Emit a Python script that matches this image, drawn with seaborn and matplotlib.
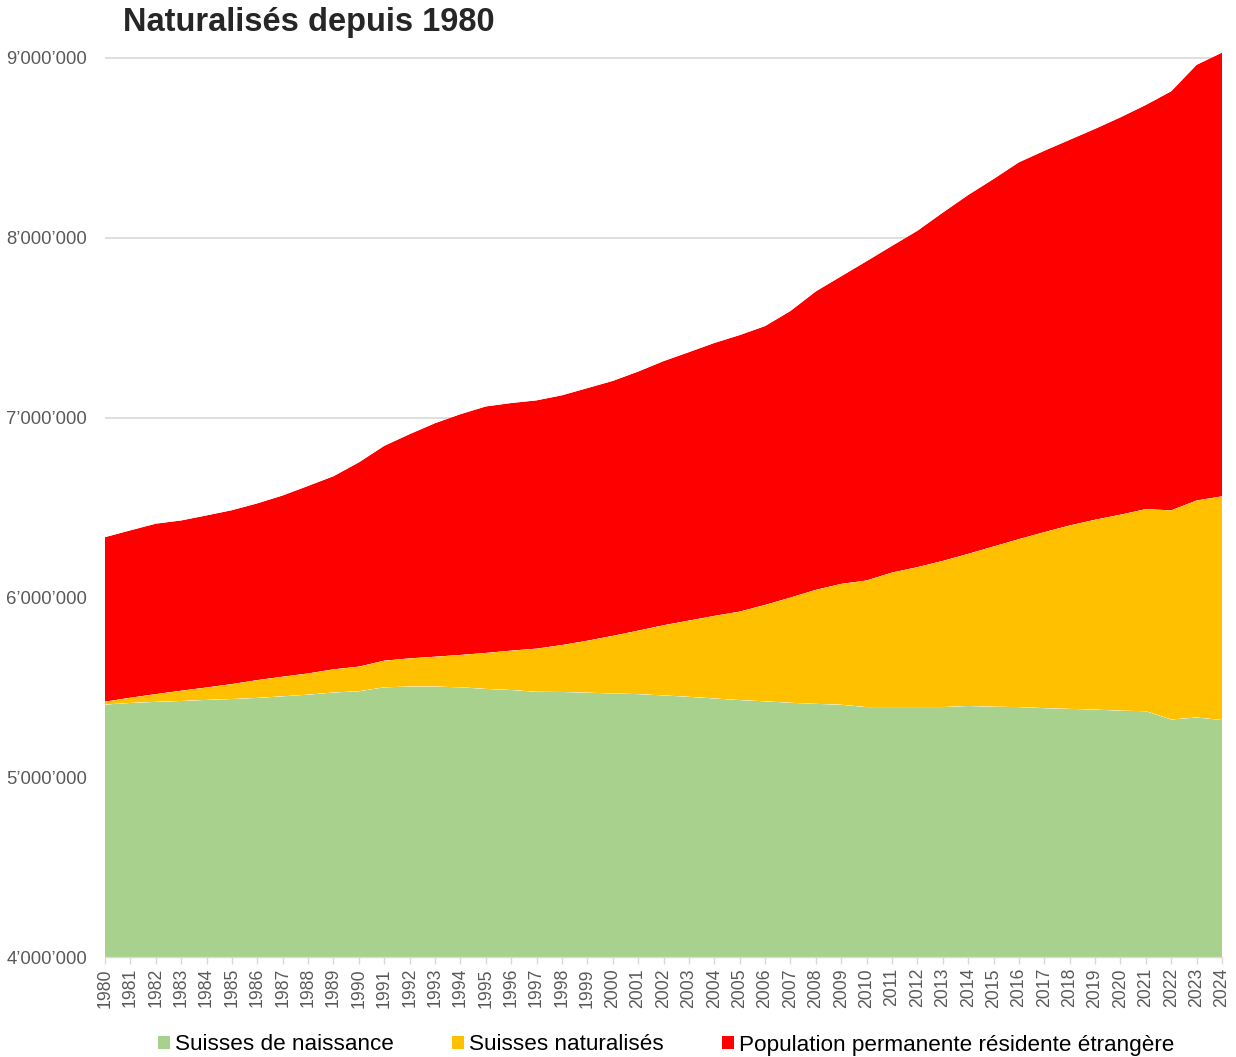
import matplotlib
matplotlib.use("Agg")
import matplotlib.pyplot as plt
from matplotlib.patches import Patch
from matplotlib.ticker import FuncFormatter
import numpy as np
import pandas as pd
import seaborn as sns
import seaborn.objects as so

# ---------------- data (in thousands) ----------------
years = list(range(1980, 2025))

suisses_naissance = [
    5404, 5413, 5419, 5424, 5430, 5435, 5441, 5450, 5459, 5471,
    5478, 5500, 5504, 5504, 5500, 5491, 5485, 5475, 5474, 5470,
    5466, 5462, 5455, 5447, 5438, 5429, 5422, 5414, 5408, 5403,
    5390, 5390, 5390, 5390, 5396, 5392, 5390, 5384, 5380, 5376,
    5370, 5367, 5321, 5332, 5318,
]

suisses_naturalises = [
    16, 29, 43, 57, 69, 83, 99, 109, 118, 129,
    137, 148, 157, 166, 180, 200, 219, 240, 261, 289,
    320, 353, 390, 424, 459, 492, 536, 585, 634, 672,
    704, 748, 778, 813, 846, 891, 934, 979, 1020, 1056,
    1090, 1124, 1163, 1207, 1244,
]

population_etrangere = [
    915, 931, 948, 947, 957, 967, 983, 1008, 1043, 1074,
    1136, 1195, 1247, 1299, 1339, 1371, 1377, 1381, 1389, 1405,
    1418, 1441, 1469, 1493, 1518, 1538, 1551, 1594, 1660, 1711,
    1776, 1817, 1871, 1937, 1996, 2044, 2096, 2121, 2145, 2174,
    2210, 2248, 2331, 2423, 2468,
]

series_labels = [
    "Suisses de naissance",
    "Suisses naturalisés",
    "Population permanente résidente étrangère",
]
series_colors = ["#A9D18E", "#FFC000", "#FF0000"]

y_ticks = [4000000, 5000000, 6000000, 7000000, 8000000, 9000000]
title = "Naturalisés depuis 1980"

# ---------------- long table for seaborn ----------------
frames = []
for lab, vals in zip(series_labels,
                     [suisses_naissance, suisses_naturalises, population_etrangere]):
    frames.append(pd.DataFrame({"year": years,
                                "value": np.array(vals) * 1000,
                                "series": lab}))
df = pd.concat(frames, ignore_index=True)
df["series"] = pd.Categorical(df["series"], categories=series_labels, ordered=True)

# ---------------- styling ----------------
sns.set_theme(style="white")
plt.rcParams["font.family"] = ["Liberation Sans", "DejaVu Sans"]

W, H = 1236, 1057
Y_TOP = 9060000          # a little headroom above the 9'000'000 gridline
px_per_unit = (957 - 58) / (y_ticks[-1] - y_ticks[0])
top_px = 58 - (Y_TOP - y_ticks[-1]) * px_per_unit

fig = plt.figure(figsize=(W / 100, H / 100), dpi=100)
fig.patch.set_facecolor("white")
ax = fig.add_axes([105 / W, 1 - 957 / H, (1222 - 105) / W, (957 - top_px) / H])

palette = dict(zip(series_labels, series_colors))
(
    so.Plot(df, x="year", y="value", color="series")
    .add(so.Area(alpha=1, edgewidth=0), so.Stack(), legend=False)
    .scale(color=so.Nominal(palette, order=series_labels))
    .on(ax)
    .plot()
)

ax.set_facecolor("white")
ax.set_xlim(years[0], years[-1])
ax.set_ylim(y_ticks[0], Y_TOP)
ax.set_xlabel("")
ax.set_ylabel("")

ax.set_axisbelow(True)
ax.yaxis.grid(True, color="#D9D9D9", linewidth=1.2)
ax.xaxis.grid(False)
for side in ["top", "right", "left"]:
    ax.spines[side].set_visible(False)
ax.spines["bottom"].set_color("#D9D9D9")
ax.spines["bottom"].set_linewidth(1.0)

ax.set_yticks(y_ticks)
ax.yaxis.set_major_formatter(
    FuncFormatter(lambda v, p: f"{int(round(v)):,}".replace(",", "\u2019")))
ax.tick_params(axis="y", length=0, pad=13, labelsize=13.3, labelcolor="#595959")

ax.set_xticks(years)
ax.set_xticklabels([str(y) for y in years], rotation=90)
ax.tick_params(axis="x", length=5, width=1, color="#D9D9D9", pad=3,
               labelsize=12.7, labelcolor="#595959", bottom=True)

fig.text(123 / W, 1 - 22 / H, title, fontsize=23.5, fontweight="bold",
         color="#262626", ha="left", va="center")

handles = [Patch(facecolor=c, edgecolor="none") for c in series_colors]
fig.legend(handles, series_labels, loc="center",
           bbox_to_anchor=(666 / W, 1 - 1045 / H), ncol=3, frameon=False,
           fontsize=16.2, handlelength=0.55, handleheight=0.55,
           handletextpad=0.2, columnspacing=2.6, labelcolor="#000000")

fig.savefig("out.png", dpi=100, facecolor="white")
